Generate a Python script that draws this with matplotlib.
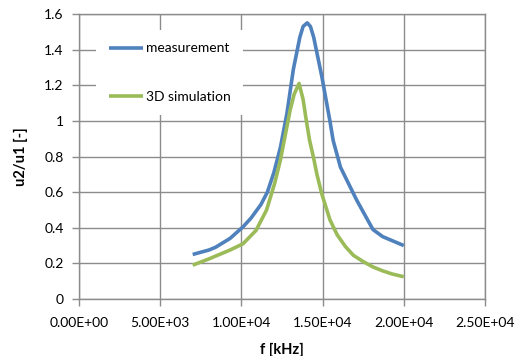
import numpy as np
import matplotlib.pyplot as plt

# data
f_meas = [7000, 8000, 8400, 9300, 10100, 10600, 11200, 11600, 12000, 12400,
          12800, 13200, 13600, 13800, 14050, 14250, 14450, 14950, 15450,
          15650, 15950, 16100, 17100, 18100, 18700, 20000]
u_meas = [0.25, 0.275, 0.29, 0.34, 0.405, 0.455, 0.53, 0.60, 0.71, 0.85,
          1.04, 1.29, 1.47, 1.53, 1.55, 1.53, 1.47, 1.25, 1.0,
          0.89, 0.79, 0.74, 0.555, 0.39, 0.35, 0.30]

f_sim = [7000, 8000, 9300, 10100, 10900, 11550, 12050, 12400, 12700, 13000,
         13250, 13550, 13800, 14000, 14200, 14450, 14650, 14950, 15450,
         15900, 16400, 16900, 17500, 18100, 18700, 19300, 20000]
u_sim = [0.19, 0.225, 0.275, 0.31, 0.385, 0.50, 0.65, 0.78, 0.92, 1.06,
         1.15, 1.21, 1.12, 1.0, 0.89, 0.79, 0.70, 0.59, 0.445,
         0.36, 0.295, 0.245, 0.21, 0.18, 0.158, 0.14, 0.125]

x_ticks = [0, 5000, 10000, 15000, 20000, 25000]
y_ticks = [0, 0.2, 0.4, 0.6, 0.8, 1.0, 1.2, 1.4, 1.6]

plt.rcParams['font.family'] = ['Lato', 'DejaVu Sans']

fig = plt.figure(figsize=(5.17, 3.56), dpi=100)
ax = fig.add_axes([79 / 517, 1 - 299 / 356, 406 / 517, 285 / 356])

grid_col = '#8c8c8c'
ax.plot(f_meas, u_meas, color='#4F81BD', lw=2.6, solid_joinstyle='round',
        solid_capstyle='butt', label='measurement', zorder=3)
ax.plot(f_sim, u_sim, color='#9BBB59', lw=2.6, solid_joinstyle='round',
        solid_capstyle='butt', label='3D simulation', zorder=3)

ax.set_xlim(0, 25000)
ax.set_ylim(0, 1.6)
ax.set_xticks(x_ticks)
ax.set_xticklabels(['%.2E' % v for v in x_ticks])
ax.set_yticks(y_ticks)
ax.set_yticklabels(['0', '0.2', '0.4', '0.6', '0.8', '1', '1.2', '1.4', '1.6'])
ax.grid(True, color=grid_col, lw=1.0)
for s in ax.spines.values():
    s.set_color(grid_col)
    s.set_linewidth(1.0)
ax.tick_params(axis='both', length=5, width=1.0, color=grid_col,
               labelsize=10, labelcolor='black')
ax.tick_params(axis='x', pad=8)
ax.tick_params(axis='y', pad=6)

ax.set_xlabel('f [kHz]', fontsize=10.5, fontweight='bold', labelpad=10)
ax.set_ylabel('u2/u1 [-]', fontsize=10.5, fontweight='bold', labelpad=12)

leg = ax.legend(loc='upper left', bbox_to_anchor=(0.042, 0.944),
                fontsize=10, handlelength=2.5, handletextpad=0.2,
                labelspacing=2.6, borderpad=0.9, borderaxespad=0,
                frameon=True, fancybox=False)
leg.get_frame().set_facecolor('white')
leg.get_frame().set_edgecolor('none')
leg.get_frame().set_alpha(1)

fig.savefig('out.png', dpi=100)
